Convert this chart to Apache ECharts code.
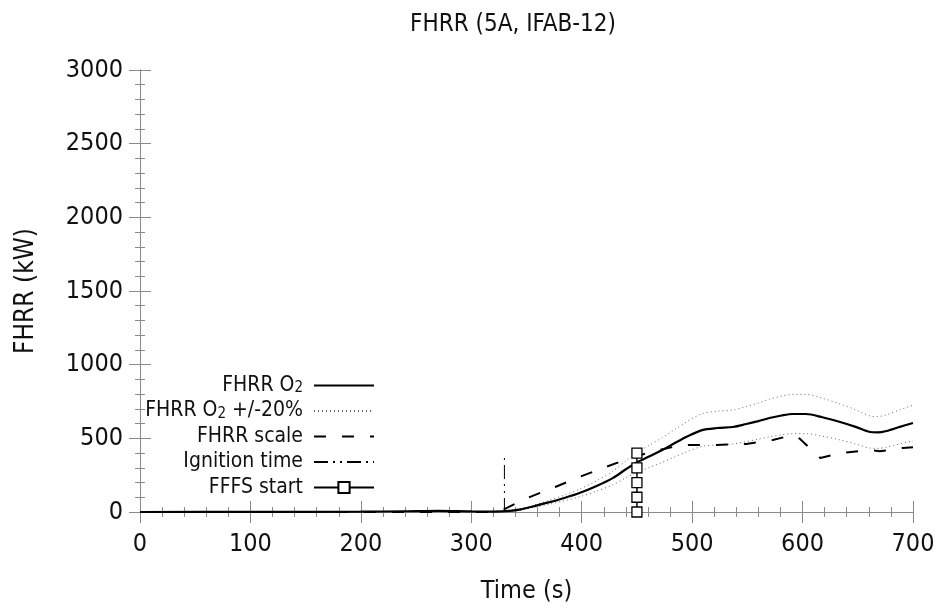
<!DOCTYPE html>
<html>
<head>
<meta charset="utf-8">
<script src="https://cdn.jsdelivr.net/npm/echarts@6/dist/echarts.min.js"></script>
<style>html,body{margin:0;padding:0;background:#fff;}#c{width:947px;height:611px;}</style>
</head>
<body>
<div id="c"></div>
<script>
// Time axis points (s) for the O2-based FHRR curves
const times = [0,100,200,240,270,300,320,335,345,355,370,385,398,413,428,440,449,461,473,484,495,509,523,537,549,560,570,581,591,603,618,634,648,661,668,676,688,700];
const fhrrO2 = [0,1,2,5,8,4,3,8,18,36,65,97,129,175,230,290,333,377,421,466,510,556,570,577,597,617,638,655,665,665,643,611,578,543,540,550,578,604];
const fhrrUpper = [0,1,2,6,10,5,4,10,22,43,78,116,155,210,276,348,400,452,505,559,612,667,684,692,716,740,766,786,798,798,772,733,694,652,648,660,694,725];
const fhrrLower = [0,1,2,4,6,3,2,6,14,29,52,78,103,140,184,232,266,302,337,373,408,445,456,462,478,494,510,524,532,532,514,489,462,434,432,440,462,483];
// FHRR scale
const scaleTimes = [0,320,330,349,376,398,422,446,470,491,519,549,573,590,597,616,634,661,670,691,700];
const scaleVals  = [0,0,20,90,170,238,306,373,421,455,455,462,489,520,500,367,400,421,412,435,440];
// Ignition time and FFFS start markers
const ignitionTime = 330;
const ignitionVals = [0,400];
const fffsTime = 450;
const fffsVals = [0,100,200,300,400];
// Axis ticks
const xTicks = {min:0,max:700,interval:100};
const yTicks = {min:0,max:3000,interval:500};
const legendNames = ['FHRR O2','FHRR O2 +/-20%','FHRR scale','Ignition time','FFFS start'];

const FONT = '"DejaVu Sans Condensed","DejaVu Sans",sans-serif';
const zip = (xs, ys) => xs.map((x,i)=>[x, ys[i]]);

const chart = echarts.init(document.getElementById('c'), null, {renderer:'canvas'});
const axisLineStyle = {color:'#8a8a8a', width:1};
const option = {
  backgroundColor:'#fff',
  animation:false,
  title:{
    text:'FHRR (5A, IFAB-12)', left:508, top:8, textAlign:'center',
    textStyle:{fontFamily:FONT, fontSize:24, fontWeight:'normal', color:'#111'}
  },
  grid:{left:140, right:34, top:70, bottom:99},
  legend:{
    orient:'vertical', align:'right', right:567, top:370,
    itemWidth:60, itemHeight:14, itemGap:4.5,
    textStyle:{fontFamily:FONT, fontSize:21, color:'#111', lineHeight:21, padding:[0,6,0,0],
      rich:{sub:{fontFamily:FONT, fontSize:15, color:'#111', lineHeight:21, verticalAlign:'bottom', padding:[6,0,0,0]}}},
    formatter:function(n){ return n.replace('O2','O{sub|2}'); },
    data:legendNames.map(n => n === 'FFFS start' ? {name:n} : {name:n, itemStyle:{opacity:0}})
  },
  xAxis:[{
    type:'value', min:xTicks.min, max:xTicks.max, interval:xTicks.interval,
    name:'Time (s)', nameLocation:'middle', nameGap:67,
    nameTextStyle:{fontFamily:FONT, fontSize:25, color:'#111'},
    axisLine:{show:true, lineStyle:axisLineStyle},
    axisTick:{show:true, inside:true, length:11, lineStyle:axisLineStyle},
    minorTick:{show:true, splitNumber:5, length:5, lineStyle:axisLineStyle},
    axisLabel:{fontFamily:FONT, fontSize:25, color:'#111', margin:20, formatter:v=>String(v)},
    splitLine:{show:false}
  },{
    type:'value', position:'top', min:xTicks.min, max:xTicks.max, interval:xTicks.interval,
    axisLine:{show:true, lineStyle:axisLineStyle},
    axisTick:{show:true, inside:true, length:11, lineStyle:axisLineStyle},
    minorTick:{show:true, splitNumber:5, length:5, lineStyle:axisLineStyle},
    axisLabel:{show:false}, splitLine:{show:false}
  }],
  yAxis:[{
    type:'value', min:yTicks.min, max:yTicks.max, interval:yTicks.interval,
    name:'FHRR (kW)', nameLocation:'middle', nameGap:101, nameRotate:90,
    nameTextStyle:{fontFamily:FONT, fontSize:26, color:'#111'},
    axisLine:{show:true, lineStyle:axisLineStyle},
    axisTick:{show:true, inside:true, length:11, lineStyle:axisLineStyle},
    minorTick:{show:true, splitNumber:5, length:5, lineStyle:axisLineStyle},
    axisLabel:{fontFamily:FONT, fontSize:25, color:'#111', margin:17, formatter:v=>String(v)},
    splitLine:{show:false}
  },{
    type:'value', position:'right', min:yTicks.min, max:yTicks.max, interval:yTicks.interval,
    axisLine:{show:true, lineStyle:axisLineStyle},
    axisTick:{show:true, inside:true, length:11, lineStyle:axisLineStyle},
    minorTick:{show:true, splitNumber:5, length:5, lineStyle:axisLineStyle},
    axisLabel:{show:false}, splitLine:{show:false}
  }],
  series:[
    {name:'FHRR O2', type:'line', data:zip(times,fhrrO2), showSymbol:false, symbol:'none', smooth:0.3,
      lineStyle:{color:'#000', width:2.2}, itemStyle:{color:'#000'}, z:5},
    {name:'FHRR O2 +/-20%', type:'line', data:zip(times,fhrrUpper), showSymbol:false, symbol:'none', smooth:0.3,
      lineStyle:{color:'#666', width:1, type:[1,3]}, itemStyle:{color:'#666'}},
    {name:'FHRR O2 +/-20%', type:'line', data:zip(times,fhrrLower), showSymbol:false, symbol:'none', smooth:0.3,
      lineStyle:{color:'#666', width:1, type:[1,3]}, itemStyle:{color:'#666'}},
    {name:'FHRR scale', type:'line', data:zip(scaleTimes,scaleVals), showSymbol:false, symbol:'none',
      lineStyle:{color:'#000', width:2, type:[12,16]}, itemStyle:{color:'#000'}},
    {name:'Ignition time', type:'line', data:ignitionVals.map(v=>[ignitionTime,v]), showSymbol:false, symbol:'none',
      lineStyle:{color:'#000', width:1, type:[14,5,2,5,2,5]}, itemStyle:{color:'#000'}},
    {name:'FFFS start', type:'line', data:fffsVals.map(v=>[fffsTime,v]), symbol:'rect', symbolSize:10, showSymbol:true,
      lineStyle:{color:'#000', width:1.5, type:'solid'}, itemStyle:{color:'#fff', borderColor:'#000', borderWidth:1.3}, z:7}
  ]
};
chart.setOption(option);
</script>
</body>
</html>
